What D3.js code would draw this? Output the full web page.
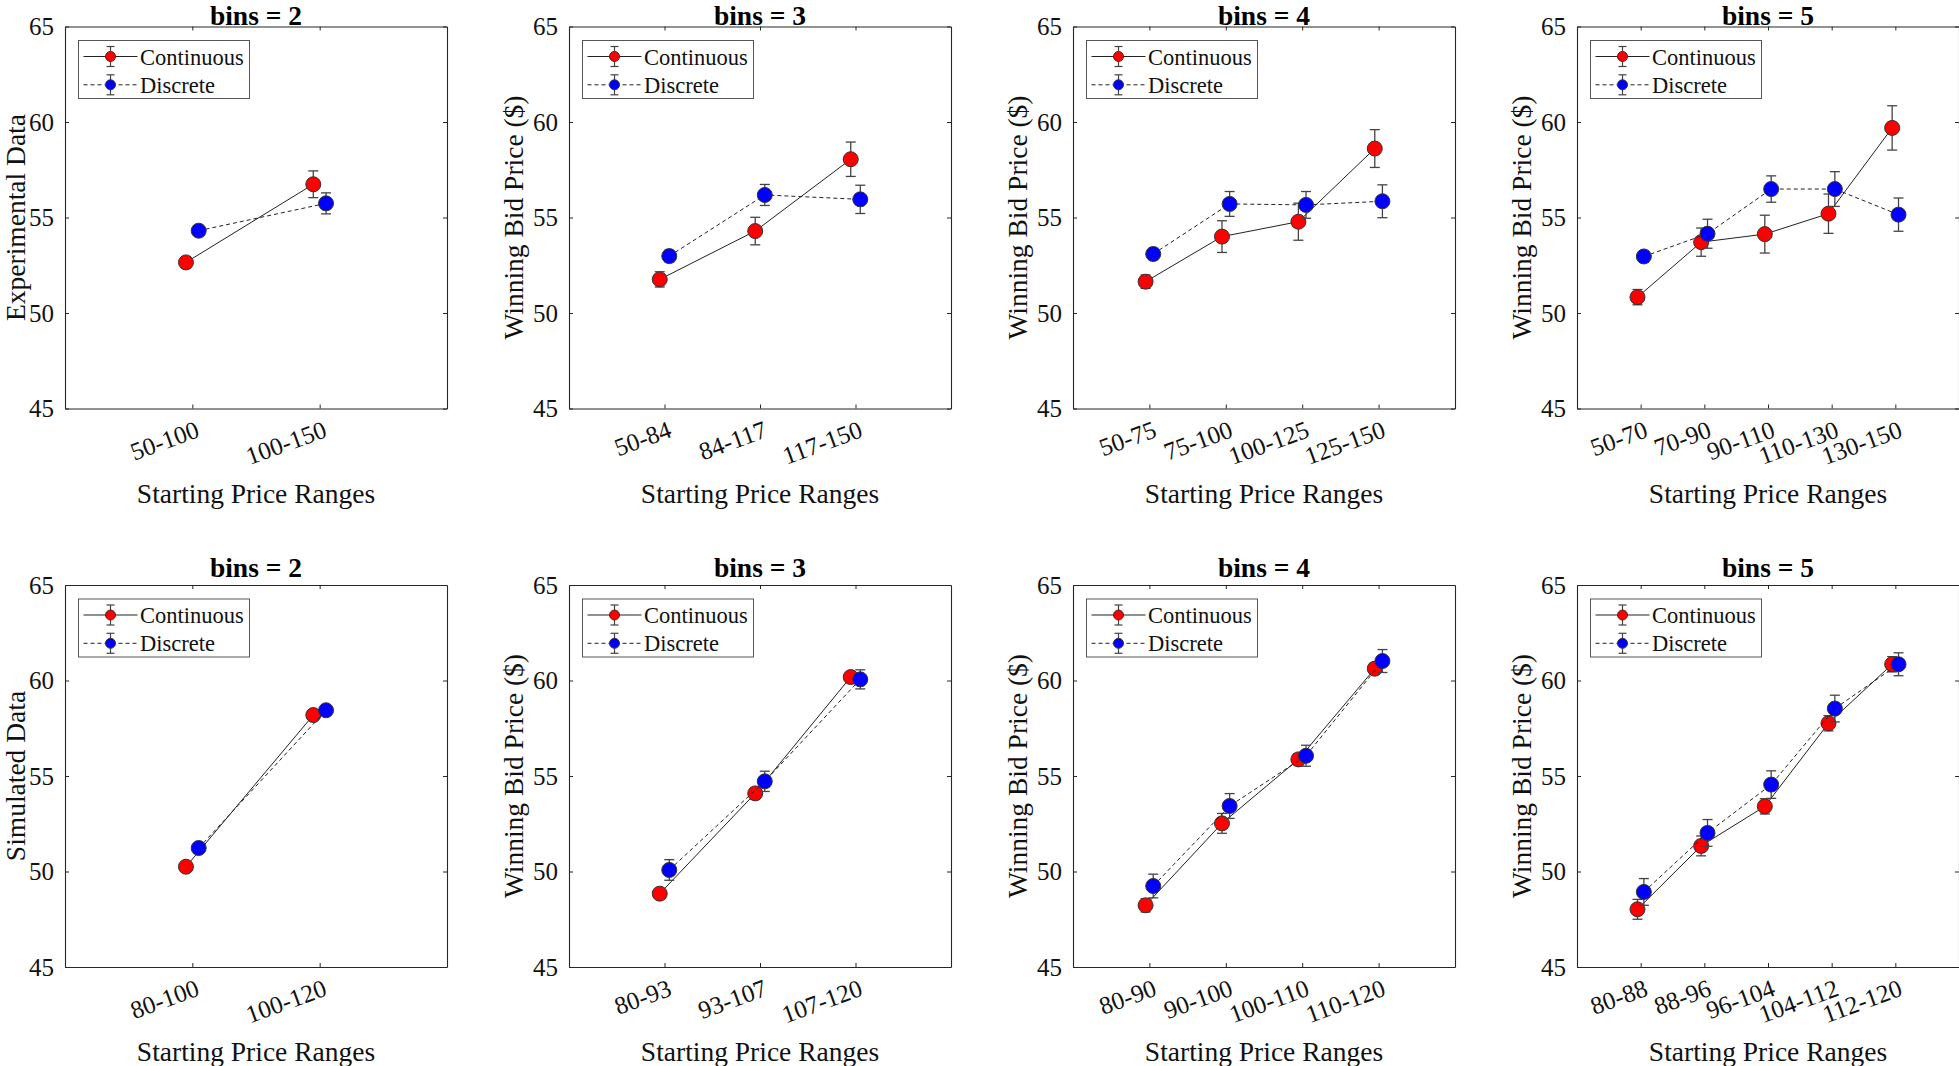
<!DOCTYPE html>
<html>
<head>
<meta charset="utf-8">
<script src="https://cdn.jsdelivr.net/npm/d3@7"></script>
<style>
  html, body { margin: 0; padding: 0; background: #fff; }
  svg { display: block; }
</style>
</head>
<body>
<svg id="chart" width="1959" height="1066"></svg>
<script>
// ---------------- DATA ----------------
const yTicks = [45, 50, 55, 60, 65];
const seriesNames = ["Continuous", "Discrete"];

// Experimental data (top row)
const expCats2 = ["50-100", "100-150"];
const expCont2 = [52.65, 56.74];
const expContErr2 = [0.3, 0.7];
const expDisc2 = [54.31, 55.74];
const expDiscErr2 = [0.2, 0.55];

const expCats3 = ["50-84", "84-117", "117-150"];
const expCont3 = [51.76, 54.29, 58.05];
const expContErr3 = [0.4, 0.72, 0.9];
const expDisc3 = [52.98, 56.18, 55.95];
const expDiscErr3 = [0.3, 0.55, 0.74];

const expCats4 = ["50-75", "75-100", "100-125", "125-150"];
const expCont4 = [51.64, 54.0, 54.78, 58.61];
const expContErr4 = [0.35, 0.83, 0.97, 0.99];
const expDisc4 = [53.09, 55.71, 55.66, 55.85];
const expDiscErr4 = [0.3, 0.65, 0.7, 0.86];

const expCats5 = ["50-70", "70-90", "90-110", "110-130", "130-150"];
const expCont5 = [50.83, 53.71, 54.13, 55.2, 59.69];
const expContErr5 = [0.4, 0.74, 0.99, 1.03, 1.16];
const expDisc5 = [52.96, 54.15, 56.49, 56.49, 55.15];
const expDiscErr5 = [0.3, 0.76, 0.69, 0.91, 0.87];

// Simulated data (bottom row)
const simCats2 = ["80-100", "100-120"];
const simCont2 = [50.25, 58.19];
const simContErr2 = [0.2, 0.2];
const simDisc2 = [51.23, 58.44];
const simDiscErr2 = [0.25, 0.2];

const simCats3 = ["80-93", "93-107", "107-120"];
const simCont3 = [48.84, 54.09, 60.18];
const simContErr3 = [0.2, 0.3, 0.25];
const simDisc3 = [50.08, 54.72, 60.06];
const simDiscErr3 = [0.54, 0.53, 0.5];

const simCats4 = ["80-90", "90-100", "100-110", "110-120"];
const simCont4 = [48.23, 52.52, 55.87, 60.62];
const simContErr4 = [0.35, 0.52, 0.3, 0.3];
const simDisc4 = [49.24, 53.43, 56.06, 61.02];
const simDiscErr4 = [0.62, 0.65, 0.55, 0.6];

const simCats5 = ["80-88", "88-96", "96-104", "104-112", "112-120"];
const simCont5 = [48.02, 51.34, 53.41, 57.76, 60.85];
const simContErr5 = [0.52, 0.52, 0.4, 0.4, 0.4];
const simDisc5 = [48.93, 52.02, 54.55, 58.53, 60.85];
const simDiscErr5 = [0.7, 0.7, 0.72, 0.7, 0.6];

const rowYLabels = ["Experimental Data", "Simulated Data"];
const otherYLabel = "Winning Bid Price ($)";
const xLabel = "Starting Price Ranges";

// ---------------- PANELS ----------------
const panels = [
  { row: 0, col: 0, bins: 2, cats: expCats2, cont: expCont2, contErr: expContErr2, disc: expDisc2, discErr: expDiscErr2 },
  { row: 0, col: 1, bins: 3, cats: expCats3, cont: expCont3, contErr: expContErr3, disc: expDisc3, discErr: expDiscErr3 },
  { row: 0, col: 2, bins: 4, cats: expCats4, cont: expCont4, contErr: expContErr4, disc: expDisc4, discErr: expDiscErr4 },
  { row: 0, col: 3, bins: 5, cats: expCats5, cont: expCont5, contErr: expContErr5, disc: expDisc5, discErr: expDiscErr5 },
  { row: 1, col: 0, bins: 2, cats: simCats2, cont: simCont2, contErr: simContErr2, disc: simDisc2, discErr: simDiscErr2 },
  { row: 1, col: 1, bins: 3, cats: simCats3, cont: simCont3, contErr: simContErr3, disc: simDisc3, discErr: simDiscErr3 },
  { row: 1, col: 2, bins: 4, cats: simCats4, cont: simCont4, contErr: simContErr4, disc: simDisc4, discErr: simDiscErr4 },
  { row: 1, col: 3, bins: 5, cats: simCats5, cont: simCont5, contErr: simContErr5, disc: simDisc5, discErr: simDiscErr5 },
];

// ---------------- LAYOUT ----------------
const plotW = 382, plotH = 382;
const colLeft = [65, 569, 1073, 1577];
const rowTop = [26.5, 585];
const titleGap = [-2, -8.3];      // title baseline offset above plot box per row
const yLabelOff = [-40.5, -46, -46, -46]; // y-label baseline offset per column
const FONT = "'Liberation Serif', 'Times New Roman', serif";
const AX = "#262626";
const offset = 0.05;

const svg = d3.select("#chart");

const styles = [
  { fill: "#ff0000", dash: null },
  { fill: "#0000ff", dash: "4,3" }
];

panels.forEach(p => {
  const x0 = colLeft[p.col], y0 = rowTop[p.row];
  const g = svg.append("g").attr("transform", `translate(${x0},${y0})`);
  const n = p.cats.length;
  const x = d3.scaleLinear().domain([0, n + 1]).range([0, plotW]);
  const y = d3.scaleLinear().domain([45, 65]).range([plotH, 0]);
  const idx = d3.range(1, n + 1);

  // axes
  const axB = d3.axisBottom(x).tickValues(idx).tickFormat(d => p.cats[d - 1]).tickSizeInner(-4).tickSizeOuter(0);
  const axT = d3.axisTop(x).tickValues(idx).tickFormat("").tickSizeInner(-4).tickSizeOuter(0);
  const axL = d3.axisLeft(y).tickValues(yTicks).tickSizeInner(-4).tickSizeOuter(0).tickPadding(11);
  const axR = d3.axisRight(y).tickValues(yTicks).tickFormat("").tickSizeInner(-4).tickSizeOuter(0);

  const gb = g.append("g").attr("transform", `translate(0,${plotH})`).call(axB);
  g.append("g").call(axT);
  g.append("g").call(axL);
  g.append("g").attr("transform", `translate(${plotW},0)`).call(axR);

  g.selectAll(".domain").attr("stroke", AX).attr("stroke-width", 1.1);
  g.selectAll(".tick line").attr("stroke", AX).attr("stroke-width", 1);
  g.selectAll(".tick text").attr("font-family", FONT).attr("font-size", 25).attr("fill", "#111");

  gb.selectAll(".tick text")
    .attr("x", 0).attr("y", 0).attr("dy", 0)
    .attr("text-anchor", "end")
    .attr("transform", "translate(8,28) rotate(-20)");

  // title
  g.append("text")
    .attr("x", plotW / 2).attr("y", titleGap[p.row])
    .attr("text-anchor", "middle")
    .attr("font-family", FONT).attr("font-size", 27.5).attr("font-weight", "bold")
    .attr("fill", "#000")
    .text(`bins = ${p.bins}`);

  // x label
  g.append("text")
    .attr("x", plotW / 2).attr("y", plotH + 94)
    .attr("text-anchor", "middle")
    .attr("font-family", FONT).attr("font-size", 27.5).attr("fill", "#111")
    .text(xLabel);

  // y label
  g.append("text")
    .attr("transform", `translate(${yLabelOff[p.col]},${plotH / 2}) rotate(-90)`)
    .attr("text-anchor", "middle")
    .attr("font-family", FONT).attr("font-size", 27.5).attr("fill", "#111")
    .text(p.col === 0 ? rowYLabels[p.row] : otherYLabel);

  // series
  const sets = [
    { vals: p.cont, errs: p.contErr, dx: -offset, st: styles[0] },
    { vals: p.disc, errs: p.discErr, dx: offset, st: styles[1] }
  ];
  sets.forEach(s => {
    const pts = s.vals.map((v, i) => ({ xi: i + 1 + s.dx, v, e: s.errs[i] }));
    const line = d3.line().x(d => x(d.xi)).y(d => y(d.v));
    const sg = g.append("g");
    sg.append("path")
      .datum(pts)
      .attr("d", line)
      .attr("fill", "none")
      .attr("stroke", "#222")
      .attr("stroke-width", 1)
      .attr("stroke-dasharray", s.st.dash);
    const eb = sg.selectAll(".eb").data(pts).enter().append("g");
    eb.append("line")
      .attr("x1", d => x(d.xi)).attr("x2", d => x(d.xi))
      .attr("y1", d => y(d.v - d.e)).attr("y2", d => y(d.v + d.e))
      .attr("stroke", "#444").attr("stroke-width", 1.3);
    eb.append("line")
      .attr("x1", d => x(d.xi) - 5).attr("x2", d => x(d.xi) + 5)
      .attr("y1", d => y(d.v - d.e)).attr("y2", d => y(d.v - d.e))
      .attr("stroke", "#444").attr("stroke-width", 1.3);
    eb.append("line")
      .attr("x1", d => x(d.xi) - 5).attr("x2", d => x(d.xi) + 5)
      .attr("y1", d => y(d.v + d.e)).attr("y2", d => y(d.v + d.e))
      .attr("stroke", "#444").attr("stroke-width", 1.3);
    sg.selectAll(".mk").data(pts).enter().append("circle")
      .attr("cx", d => x(d.xi)).attr("cy", d => y(d.v))
      .attr("r", 7.5)
      .attr("fill", s.st.fill)
      .attr("stroke", "#333").attr("stroke-width", 1);
  });

  // legend
  const lg = g.append("g").attr("transform", "translate(13.5,14)");
  lg.append("rect")
    .attr("x", 0).attr("y", 0).attr("width", 171).attr("height", 58)
    .attr("fill", "#fff").attr("stroke", "#555").attr("stroke-width", 1);
  seriesNames.forEach((name, i) => {
    const ry = 16 + i * 28.3;
    const row = lg.append("g");
    row.append("line")
      .attr("x1", 5).attr("x2", 59).attr("y1", ry).attr("y2", ry)
      .attr("stroke", "#222").attr("stroke-width", 1)
      .attr("stroke-dasharray", styles[i].dash);
    row.append("line").attr("x1", 32).attr("x2", 32).attr("y1", ry - 10).attr("y2", ry + 10)
      .attr("stroke", "#444").attr("stroke-width", 1.2);
    row.append("line").attr("x1", 28).attr("x2", 36).attr("y1", ry - 10).attr("y2", ry - 10)
      .attr("stroke", "#444").attr("stroke-width", 1.2);
    row.append("line").attr("x1", 28).attr("x2", 36).attr("y1", ry + 10).attr("y2", ry + 10)
      .attr("stroke", "#444").attr("stroke-width", 1.2);
    row.append("circle").attr("cx", 32).attr("cy", ry).attr("r", 5)
      .attr("fill", styles[i].fill).attr("stroke", "#333").attr("stroke-width", 1);
    row.append("text")
      .attr("x", 61.5).attr("y", ry + 8)
      .attr("font-family", FONT).attr("font-size", 22.5).attr("fill", "#111")
      .text(name);
  });
});
</script>
</body>
</html>
